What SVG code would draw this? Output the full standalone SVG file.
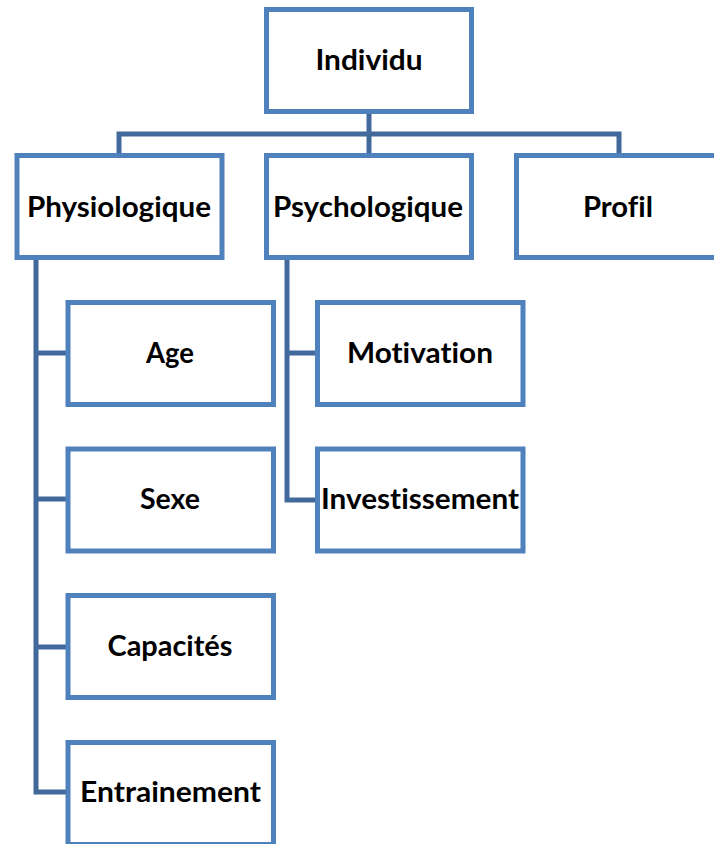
<svg xmlns="http://www.w3.org/2000/svg" width="714" height="844" viewBox="0 0 714 844">
  <style>
    .box { fill: #ffffff; stroke: #4f81bd; stroke-width: 5; }
    .lbl { font-family: "Lato", "Open Sans", "Liberation Sans", sans-serif; font-weight: 700; font-size: 28px; fill: #000000; text-anchor: middle; font-variant-ligatures: none; }
    .link { fill: none; stroke: #41699c; stroke-width: 5; stroke-linejoin: miter; }
  </style>
  <rect width="714" height="844" fill="#ffffff"/>

  <!-- tree connectors -->
  <g id="connectors">
    <path class="link" d="M369,114 V134 M119,153 V134 H619 V153 M369,134 V153"/>
    <path class="link" d="M36,260 V792 H68 M36,353 H68 M36,499 H68 M36,647 H68"/>
    <path class="link" d="M287,260 V500 H317 M287,353 H317"/>
  </g>

  <g id="individu">
    <rect class="box" x="266.5" y="9.5" width="205" height="102"/>
    <text class="lbl" x="369" y="69.5" textLength="107" lengthAdjust="spacingAndGlyphs">Individu</text>
  </g>

  <g id="physiologique">
    <rect class="box" x="17" y="155.5" width="205" height="102"/>
    <text class="lbl" x="119" y="216.5" textLength="184" lengthAdjust="spacingAndGlyphs">Physiologique</text>
  </g>

  <g id="psychologique">
    <rect class="box" x="266.5" y="155.5" width="205" height="102"/>
    <text class="lbl" x="368" y="216.5" textLength="190" lengthAdjust="spacingAndGlyphs">Psychologique</text>
  </g>

  <g id="profil">
    <rect class="box" x="516.5" y="155.5" width="205" height="102"/>
    <text class="lbl" x="618" y="216.5" textLength="70" lengthAdjust="spacingAndGlyphs">Profil</text>
  </g>

  <g id="age">
    <rect class="box" x="68" y="302.5" width="205.5" height="102"/>
    <text class="lbl" x="170" y="362.5" textLength="48" lengthAdjust="spacingAndGlyphs">Age</text>
  </g>

  <g id="sexe">
    <rect class="box" x="68" y="449" width="205.5" height="102"/>
    <text class="lbl" x="170" y="509" textLength="60" lengthAdjust="spacingAndGlyphs">Sexe</text>
  </g>

  <g id="capacites">
    <rect class="box" x="68" y="595.5" width="205.5" height="102"/>
    <text class="lbl" x="170" y="656" textLength="125" lengthAdjust="spacingAndGlyphs">Capacités</text>
  </g>

  <g id="entrainement">
    <rect class="box" x="68" y="742.5" width="205.5" height="102"/>
    <text class="lbl" x="170.5" y="802" textLength="181" lengthAdjust="spacingAndGlyphs">Entrainement</text>
  </g>

  <g id="motivation">
    <rect class="box" x="317.5" y="302.5" width="205.5" height="102"/>
    <text class="lbl" x="420" y="362.5" textLength="146" lengthAdjust="spacingAndGlyphs">Motivation</text>
  </g>

  <g id="investissement">
    <rect class="box" x="317.5" y="449" width="205.5" height="102"/>
    <text class="lbl" x="420" y="509" textLength="198" lengthAdjust="spacingAndGlyphs">Investissement</text>
  </g>
</svg>
